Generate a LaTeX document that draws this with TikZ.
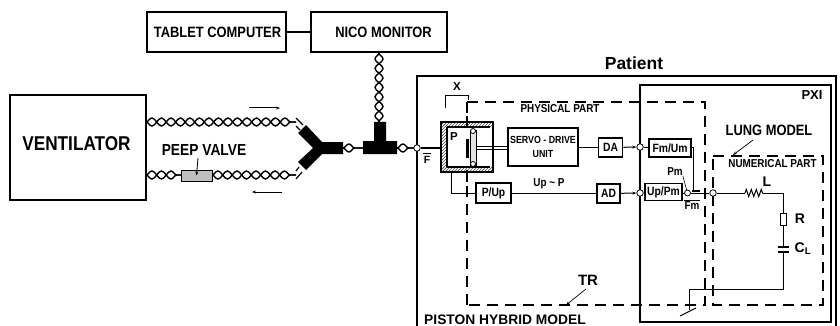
\documentclass[tikz,border=0pt]{standalone}
\usepackage{fontspec}
\setmainfont{Liberation Sans}
\newfontfamily\condf[FakeStretch=0.86]{Liberation Sans}
\usetikzlibrary{decorations.pathmorphing,arrows.meta,patterns}
\newcommand{\fs}[1]{\fontsize{#1}{#1}\selectfont\bfseries}
\newcommand{\fc}[1]{\condf\fontsize{#1}{#1}\selectfont\bfseries}
\tikzset{
  box/.style={draw=black,line width=1.7pt,fill=white,inner sep=0pt,align=center,font=\fc{10}},
  bigbox/.style={box,line width=1.6pt},
  lab/.style={inner sep=0pt,align=center,text=black},
  wire/.style={line width=1pt,black},
  thick wire/.style={line width=1.5pt,black},
  frame/.style={line width=1.5pt,black},
  dashframe/.style={line width=1.5pt,black,dash pattern=on 11pt off 7pt},
  junction/.style={circle,draw=black,fill=white,line width=.8pt,minimum size=6.5pt,inner sep=0pt},
  wavea/.style={line width=1.4pt,black,decorate,decoration={snake,amplitude=4pt,segment length=19pt}},
  waveb/.style={line width=1.4pt,black,decorate,decoration={snake,amplitude=4pt,segment length=19pt,mirror}},
  tip/.style={-{Stealth[length=4pt,width=3pt]}},
  hatchwall/.style={pattern=north east lines,pattern color=black!70,draw=none},
}
\newcommand{\tube}[2]{\draw[wavea] (#1) -- (#2); \draw[waveb] (#1) -- (#2);}
\begin{document}
\begin{tikzpicture}[x=1pt,y=-1pt]
\useasboundingbox (0,0) rectangle (840,326);
\fill[white] (0,0) rectangle (840,326);

% frames
\coordinate (pa) at (417,326); \coordinate (pb) at (417,76); \coordinate (pc) at (836,76); \coordinate (pd) at (836,326);
\draw[frame] (pa) -- (pb) -- (pc) -- (pd);
\node[lab,font=\fs{17.5}] (patient) at (634,63) {Patient};
\draw[frame] (640,85) rectangle (831,322);
\node[lab,font=\fs{13}] (pxi) at (812,95) {PXI};
\draw[dashframe] (467,102) -- (705,102) -- (705,305) -- (467,305);
\draw[dashframe] (467,305) -- (467,183);
\draw[line width=1.5pt] (467,102) -- (467,113);
\draw[dashframe] (713,156) -- (823,156) -- (823,305) -- (713,305) -- cycle;
\node[lab,font=\fc{11.5}] (phys) at (560,109) {PHYSICAL PART};
\node[lab,font=\fc{11.5}] (num) at (772.5,164) {NUMERICAL PART};
\node[lab,font=\fs{13.8}] (piston) at (505,320) {PISTON HYBRID MODEL};

% top boxes
\node[bigbox,minimum width=139pt,minimum height=40pt] (tablet) at (216.5,32) {};
\node[lab,font=\fc{15}] (tabletl) at (217.5,32) {TABLET COMPUTER};
\node[bigbox,minimum width=136pt,minimum height=40pt] (nico) at (379,32) {};
\node[lab,font=\fc{15}] (nicol) at (383.5,32) {NICO MONITOR};
\draw[thick wire] (tablet) -- (nico);
\node[bigbox,minimum width=136pt,minimum height=105pt] (vent) at (78,147.5) {};
\node[lab,font=\fc{20}] (ventl) at (76.5,143.5) {VENTILATOR};

% tubing coordinates
\coordinate (t1) at (146,122); \coordinate (t2) at (296,122);
\coordinate (b1) at (146,175); \coordinate (b2) at (181,175);
\coordinate (b3) at (212,175); \coordinate (b4) at (296,175);
\coordinate (v1) at (379,53); \coordinate (v2) at (379,122);
\coordinate (h1) at (343,148); \coordinate (h2) at (363,148);
\coordinate (h3) at (397,148); \coordinate (h4) at (417,148);
\tube{t1}{t2}
\tube{b1}{b2}
\tube{b3}{b4}
\tube{v1}{v2}
\tube{h1}{h2}
\tube{h3}{h4}
\draw[line width=1.2pt] (296,118) -- (303,125);
\draw[line width=1.2pt] (296,126) -- (300,130);
\draw[line width=1.2pt] (296,179) -- (302,172);
\draw[line width=1.2pt] (296,171) -- (299,167);
% valve
\node[draw=black,line width=1pt,fill=black!25,minimum width=31pt,minimum height=11pt,inner sep=0pt] (valve) at (196.5,175.5) {};
\node[lab,font=\fc{16}] (peep) at (204,150) {PEEP VALVE};
\coordinate (pp) at (198,158);
\draw[line width=.8pt,tip] (pp) -- (valve.center);
% Y and T pieces
\fill[black] (306,125) -- (322,142) -- (343,142) -- (343,154) -- (322,154) -- (306,170) -- (298,162) -- (313,148) -- (298,133) -- cycle;
\fill[black] (363,141) -- (374,141) -- (374,122) -- (386,122) -- (386,141) -- (397,141) -- (397,154) -- (363,154) -- cycle;
% flow arrows
\coordinate (fa) at (249,108); \coordinate (fb) at (280,108);
\coordinate (ga) at (282,192); \coordinate (gb) at (252,192);
\draw[wire,tip] (fa) -- (fb);
\draw[wire,tip] (ga) -- (gb);

% piston
\fill[white] (441,122) rectangle (493,172);
\fill[hatchwall] (441,122) rectangle (493,127);
\fill[hatchwall] (441,122) rectangle (447,172);
\fill[hatchwall] (441,167) rectangle (493,172);
\draw[line width=1.8pt] (441,122) rectangle (493,172);
\draw[line width=1.2pt] (447,127) -- (490,127);
\draw[line width=1.2pt] (447,167) -- (490,167);
\draw[line width=1.2pt] (447,127) -- (447,167);
\node[lab,font=\fs{11.5}] (plabel) at (454,137) {P};
\draw[line width=1.5pt] (467,116) -- (467,127);
\draw[line width=1.5pt] (467,170) -- (467,182);
\draw[line width=3pt] (467,139) -- (467,158);
\draw[line width=.6pt,fill=black!10] (470,130) rectangle (476,165);
\node[junction,minimum size=5pt] (pt) at (473,131) {};
\node[junction,minimum size=5pt] (pb2) at (473,164) {};

% bracket X
\coordinate (xa) at (445,108); \coordinate (xb) at (445,95); \coordinate (xc) at (468,95);\coordinate (xd) at (468,100);
\draw[line width=.8pt] (xa) -- (xb) -- (xc) -- (xd);
\node[lab,font=\fs{11.5}] (xl) at (457,87) {X};

% blocks
\node[box,minimum width=70pt,minimum height=38pt,font=\fc{10.3}] (servo) at (543,147) {SERVO - DRIVE\\[3pt]UNIT};
\node[box,minimum width=24pt,minimum height=19pt,font=\fc{12}] (da) at (610.5,147.5) {DA};
\node[box,minimum width=35pt,minimum height=20pt,font=\fc{12}] (pup) at (493.5,193) {P/Up};
\node[box,minimum width=23pt,minimum height=19pt,font=\fc{12}] (ad) at (608.5,193.5) {AD};
\node[box,minimum width=42pt,minimum height=18pt,font=\fc{12}] (fmum) at (670,148) {Fm/Um};
\node[box,minimum width=37pt,minimum height=17pt,font=\fc{12}] (uppm) at (663.5,192) {Up/Pm};
\node[junction] (c0) at (417,148) {};
\node[junction] (c1) at (640,147) {};
\node[junction] (c2) at (640,193) {};
\node[junction] (c3) at (713,193) {};
\node[junction,minimum size=6pt] (sum) at (687.5,193) {};

% connections
\draw[thick wire] (c0) -- (441,148);
\draw[line width=.8pt] (476,146) -- (508,146);
\draw[line width=.8pt] (476,149) -- (508,149);
\draw[wire] (servo.east |- da) -- (da);
\draw[wire,tip] (da) -- (c1);
\draw[wire] (c1) -- (fmum.west |- c1);
\draw[wire] (451,172) -- (451,193) -- (pup);
\draw[wire] (pup.east |- ad) -- (ad);
\draw[wire,tip] (ad) -- (c2);
\draw[wire] (c2) -- (uppm.west |- c2);
\draw[wire] (uppm.east |- sum) -- (sum);
\draw[wire] (fmum.east |- 0,147) -- (693,147) -- (693,191);
\draw[line width=2pt] (692,191) -- (700,191);
\draw[wire] (sum) -- (c3);

\node[lab,font=\fc{11.5}] (uplab) at (549,184) {Up \textasciitilde{} P};
\node[lab,font=\fs{10.5}] (fbar) at (427,160) {F};
\draw[line width=.8pt] (423,153.5) -- (431,153.5);
\node[lab,font=\fc{11.5}] (pm) at (675,172) {Pm};
\draw[line width=.6pt] (pm.south east) -- (sum);
\node[lab,font=\fc{11.5}] (fm) at (692,206) {Fm};
\draw[line width=.8pt] (684,200) -- (700,200);

% lung network
\coordinate (l1) at (745,193); \coordinate (l2) at (763,193);
\coordinate (n1) at (783,193); \coordinate (r1) at (783,213); \coordinate (r2) at (783,225);
\coordinate (cap1) at (783,247); \coordinate (cap2) at (783,252);
\coordinate (n2) at (783,289); \coordinate (n3) at (689,289); \coordinate (n4) at (689,310);
\draw[wire] (c3) -- (l1);
\draw[wire,decorate,decoration={zigzag,amplitude=3.5pt,segment length=5pt}] (l1) -- (l2);
\draw[wire] (l2) -- (n1) -- (r1);
\node[draw=black,line width=.9pt,fill=white,minimum width=6pt,minimum height=12pt,inner sep=0pt] (rr) at (783,219) {};
\draw[wire] (r2) -- (cap1);
\draw[line width=1.2pt] (777.5,247) -- (789,247);
\draw[line width=1.2pt] (777.5,252) -- (789,252);
\draw[wire] (cap2) -- (n2) -- (n3) -- (n4);
\draw[wire] (680,316) -- (696,308);
\node[lab,font=\fs{14}] (ll) at (767,182) {L};
\node[lab,font=\fs{14}] (rl) at (800,219) {R};
\node[lab,font=\fs{14}] (cl) at (803,249) {C\textsubscript{L}};

% labels with leaders
\node[lab,font=\fc{15}] (lung) at (769,130) {LUNG MODEL};
\coordinate (la) at (753,140);
\draw[line width=.7pt,tip] (la) -- (733,155);
\node[lab,font=\fs{15}] (tr) at (588,280) {TR};
\coordinate (ta) at (586,289);
\draw[line width=.7pt,tip] (ta) -- (566,305);
\end{tikzpicture}
\end{document}
